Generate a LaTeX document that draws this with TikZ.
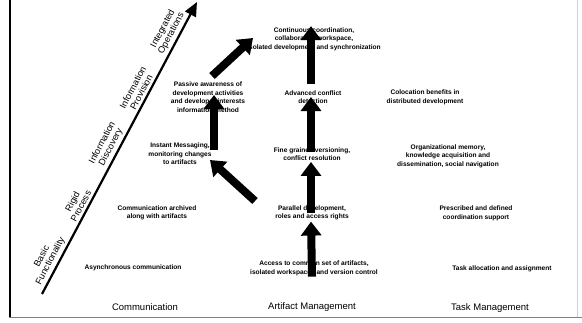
\documentclass[tikz,border=0pt]{standalone}
\usepackage{fontspec}
\setmainfont{Liberation Sans}
\usetikzlibrary{arrows.meta,calc}
\tikzset{
  cell/.style={font=\fontsize{6.6}{8.6}\selectfont\bfseries, align=center, inner sep=1pt},
  colhead/.style={font=\fontsize{9.5}{11}\selectfont, inner sep=1pt},
  level/.style={font=\fontsize{9.2}{9.6}\selectfont, align=center, sloped, above=1.5pt, inner sep=1pt},
  blockarrow/.style={line width=8pt, -{Triangle[width=20pt,length=14pt]}},
  axisline/.style={line width=2.2pt, -{Triangle[width=12pt,length=14pt]}},
}
\begin{document}
\begin{tikzpicture}[x=1pt,y=-1pt]
\fill[white] (0,0) rectangle (582,322);
\useasboundingbox (0,0) rectangle (582,322);

% frame
\draw[line width=2pt] (9.5,0) -- (9.5,318);
\draw[gray, line width=1.5pt] (9,317.5) -- (582,317.5);
\draw[gray!35, line width=0.8pt] (577.5,0) -- (577.5,317);

% levels axis
\coordinate (ax0) at (42,294);
\coordinate (ax1) at (197,2);
\draw[axisline] (ax0) -- (ax1)
  node[level,pos=0.10] {Basic\\Functionality}
  node[level,pos=0.29] {Rigid\\Process}
  node[level,pos=0.49] {Information\\Discovery}
  node[level,pos=0.68] {Information\\Provision}
  node[level,pos=0.88] {Integrated\\Operations};

% communication column
\node[cell] (c1) at (133,268) {Asynchronous communication};
\node[cell] (c2) at (157,213) {Communication archived\\along with artifacts};
\node[cell] (c3) at (180,154) {Instant Messaging,\\monitoring changes\\to artifacts};
\node[cell] (c4) at (208,97) {Passive awareness of\\development activities\\and developer interests\\information method};

% artifact management column
\node[cell] (a1) at (314,268) {Access to common set of artifacts,\\isolated workspaces and version control};
\node[cell] (a2) at (312,213) {Parallel development,\\roles and access rights};
\node[cell] (a3) at (312,154) {Fine grained versioning,\\conflict resolution};
\node[cell] (a4) at (313,97) {Advanced conflict\\detection};
\node[cell] (a5) at (314,39) {Continuous coordination,\\collaborative workspace,\\isolated development and synchronization};

% task management column
\node[cell] (t1) at (502,269) {Task allocation and assignment};
\node[cell] (t2) at (476,213) {Prescribed and defined\\coordination support};
\node[cell] (t3) at (448,156) {Organizational memory,\\knowledge acquisition and\\dissemination, social navigation};
\node[cell] (t4) at (425,97) {Colocation benefits in\\distributed development};

% column headings
\node[colhead] (h1) at (145,307) {Communication};
\node[colhead] (h2) at (312,307) {Artifact Management};
\node[colhead] (h3) at (490,308) {Task Management};

% progression arrows
\draw[blockarrow] ([xshift=-2pt]a1.south) -- ([xshift=-1pt]a2.south);
\draw[blockarrow] ([xshift=-1pt]a2.center) -- ([xshift=-1pt]a3.south);
\draw[blockarrow] ([xshift=-1pt,yshift=-6pt]a3.north) -- ([xshift=-2pt]a4.center);
\draw[blockarrow] ([xshift=-2pt,yshift=5pt]a4.north) -- ([xshift=-3pt]a5.north);
\draw[blockarrow] ($(c3.center)+(34pt,4pt)$) -- ($(c4.center)+(6pt,2pt)$);
\draw[blockarrow] ($(a2.center)+(-57pt,12pt)$) -- ($(c3.center)+(30pt,-6pt)$);
\draw[blockarrow] ($(c4.center)+(4pt,21pt)$) -- ($(a5.center)+(-61pt,1pt)$);
\end{tikzpicture}
\end{document}
